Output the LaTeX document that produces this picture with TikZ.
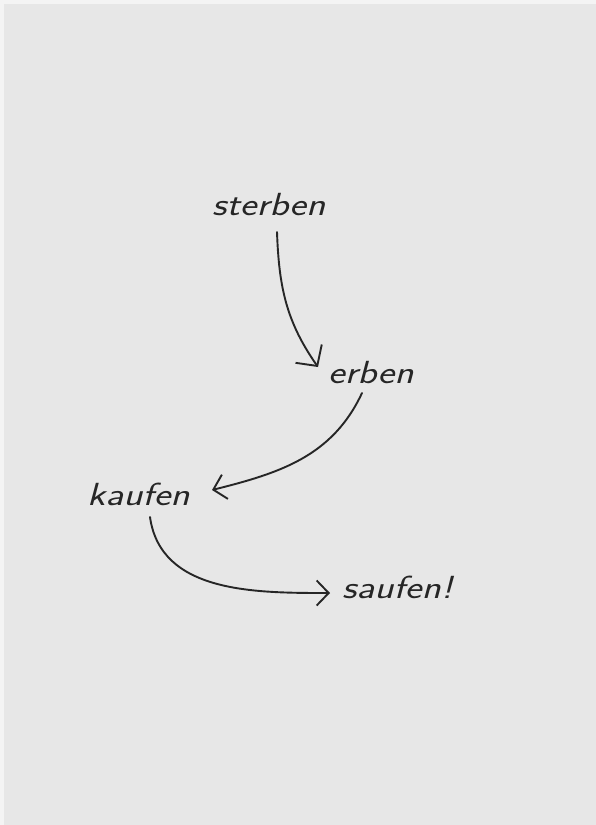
\documentclass[tikz,border=0pt]{standalone}
\usetikzlibrary{arrows.meta,positioning}
\definecolor{paper}{HTML}{E7E7E7}
\definecolor{rim}{HTML}{F4F4F4}
\definecolor{ink}{HTML}{262626}
\newcommand{\handwide}[1]{\scalebox{1.24}[1]{#1}}
\tikzset{
  word/.style={anchor=base west, inner sep=0pt, text=ink,
    font=\sffamily\itshape\fontsize{32}{36}\selectfont},
  link/.style={draw=ink, line width=1.9pt, line cap=round,
    -{Straight Barb[length=12pt,width=25pt,line width=1.9pt]}},
  biglink/.style={link,
    -{Straight Barb[length=15pt,width=32pt,line width=1.9pt]}}
}

\begin{document}
\begin{tikzpicture}[x=1pt,y=-1pt]
% the sheet
\fill[rim] (0,0) rectangle (596,825);
\fill[paper] (4,4) rectangle (596,825);
\useasboundingbox (0,0) rectangle (596,825);

% words
\node[word] (sterben) at (212,215) {\handwide{sterben}};
\node[word] (erben) at (328,383) {\handwide{erben}};
\node[word] (kaufen) at (87,505) {\handwide{kaufen}};
\node[word] (saufen) at (342,598) {\handwide{saufen!}};

% arrows
\draw[biglink] ([xshift=65pt,yshift=-17pt]sterben.base west)
  to[out=-88,in=125] ([xshift=-10pt,yshift=16pt]erben.base west);
\draw[link] ([xshift=34pt,yshift=-10pt]erben.base west)
  to[out=-115,in=14] ([xshift=125pt,yshift=15pt]kaufen.base west);
\draw[link] ([xshift=63pt,yshift=-12pt]kaufen.base west)
  to[out=-82,in=180] ([xshift=-12pt,yshift=5pt]saufen.base west);
\end{tikzpicture}
\end{document}
